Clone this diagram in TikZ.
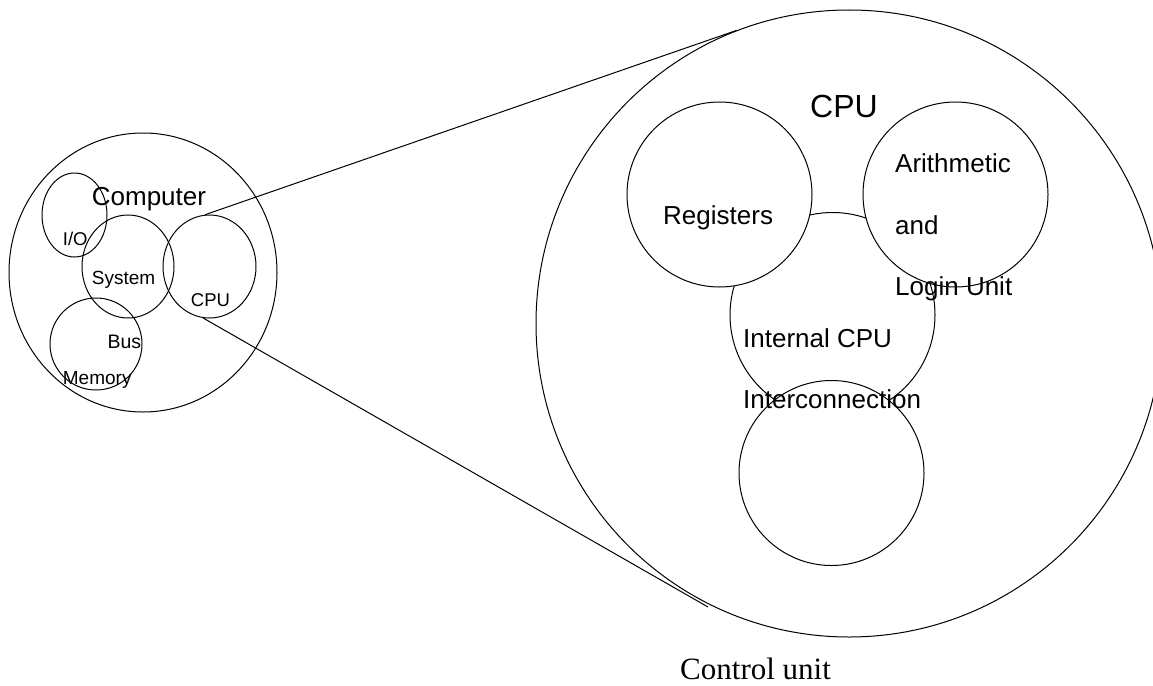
\documentclass[tikz,border=0pt]{standalone}
\usepackage{fontspec}
\setmainfont{Liberation Sans}
\newfontfamily\timesf{Liberation Serif}
\usetikzlibrary{shapes.geometric}
\begin{document}
\begin{tikzpicture}[x=1pt,y=-1pt,
  ring/.style={draw=black,line width=1pt,ellipse,inner sep=0pt},
  wring/.style={ring,fill=white},
  conn/.style={draw=black,line width=1pt},
  lbl/.style={inner sep=0pt,anchor=base west,align=left}]
\useasboundingbox (0,0) rectangle (1153,685);
% left: computer
\node[ring,minimum width=268pt,minimum height=279pt] (comp) at (143,272.5) {};
\node[ring,minimum width=65pt,minimum height=84pt] (io) at (74.5,215) {};
\node[ring,minimum width=92pt,minimum height=103pt] (sys) at (128,266.5) {};
\node[ring,minimum width=93pt,minimum height=103pt] (cpus) at (209.5,266.5) {};
\node[ring,minimum width=92pt,minimum height=92pt] (mem) at (96,344) {};
\node[lbl,font=\fontsize{26}{26}\selectfont] (tcomp) at (91.7,205.5) {Computer};
\node[lbl,font=\fontsize{18.5}{18.5}\selectfont] (tio) at (62.7,245) {I/O};
\node[lbl,font=\fontsize{19}{19}\selectfont] (tsys) at (91.7,284) {System};
\node[lbl,font=\fontsize{18.5}{18.5}\selectfont] (tcpus) at (190.7,306) {CPU};
\node[lbl,font=\fontsize{19.5}{19.5}\selectfont] (tbus) at (107.3,348) {Bus};
\node[lbl,font=\fontsize{19}{19}\selectfont] (tmem) at (62.7,384) {Memory};
% right: CPU
\node[ring,minimum width=626pt,minimum height=627pt] (cpubig) at (849,323.5) {};
\node[wring,minimum width=205pt,minimum height=205pt] (icpu) at (832.5,315) {};
\node[wring,minimum width=185pt,minimum height=185pt] (reg) at (719.5,194.5) {};
\node[wring,minimum width=185pt,minimum height=185pt] (alu) at (955.5,194.5) {};
\node[wring,minimum width=185pt,minimum height=185pt] (cu) at (831.5,473) {};
\node[lbl,font=\fontsize{32}{32}\selectfont] (tcpub) at (810,117) {CPU};
\node[lbl,font=\fontsize{26}{26}\selectfont] (treg) at (663,224) {Registers};
\node[lbl,font=\fontsize{26}{61.5}\selectfont] (talu) at (895,295.5) {Arithmetic\\and\\Login Unit};
\node[lbl,font=\fontsize{26}{61.5}\selectfont] (ticpu) at (743,408.5) {Internal CPU\\Interconnection};
\node[lbl,font=\timesf\fontsize{31}{31}\selectfont] (tcu) at (680,679) {Control unit};
% connectors
\coordinate (lowend) at (708,607);
\draw[conn] (cpus.95) -- (cpubig.111);
\draw[conn] (cpus.263) -- (lowend);
\end{tikzpicture}
\end{document}
